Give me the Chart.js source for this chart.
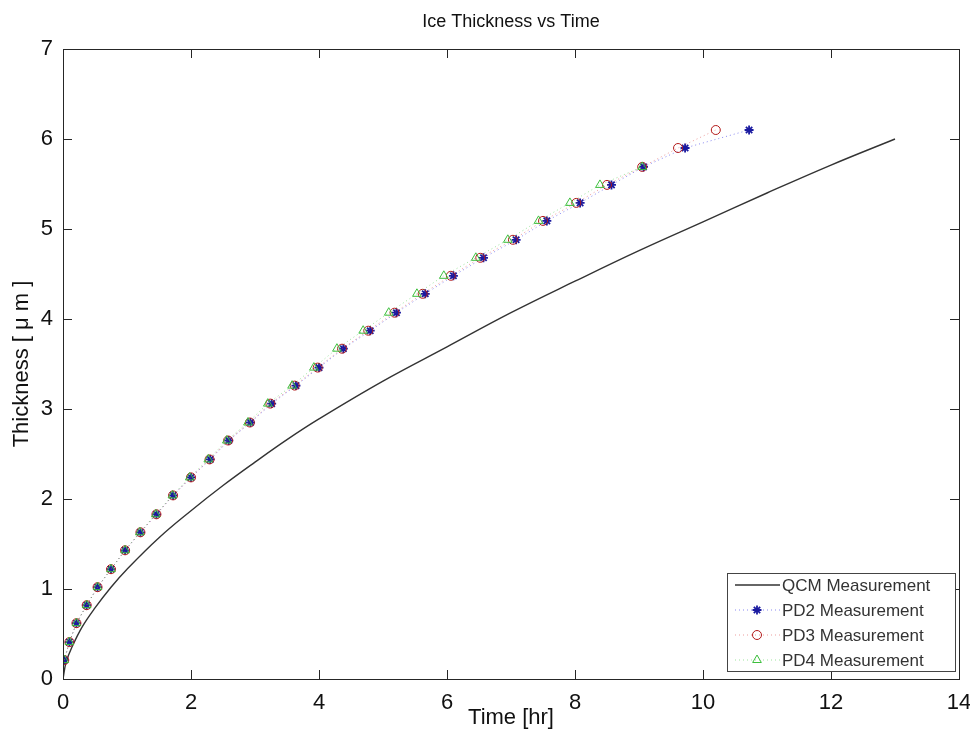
<!DOCTYPE html>
<html>
<head>
<meta charset="utf-8">
<script src="https://cdn.jsdelivr.net/npm/chart.js@4.4.0/dist/chart.umd.min.js"></script>
<style>
  html, body { margin: 0; padding: 0; background: #fff; }
  #wrap { width: 970px; height: 740px; }
</style>
</head>
<body>
<div id="wrap"><canvas id="myChart" width="970" height="740"></canvas></div>
<script>
// QCM measurement (solid line)
const timeQCM  = [0, 0.05, 0.15, 0.3, 0.5, 0.75, 1, 1.5, 2, 2.5, 3, 3.5, 4, 5, 6, 7, 8, 9, 10, 11, 12, 13];
const thickQCM = [0, 0.19, 0.37, 0.58, 0.79, 1.02, 1.22, 1.57, 1.87, 2.15, 2.41, 2.66, 2.89, 3.31, 3.69, 4.07, 4.42, 4.76, 5.08, 5.40, 5.71, 6.00];

// photodiode measurements
const timePD2  = [0.02, 0.10, 0.21, 0.37, 0.54, 0.75, 0.97, 1.21, 1.46, 1.72, 2.00, 2.30, 2.59, 2.93, 3.26, 3.64, 4.00, 4.38, 4.80, 5.21, 5.66, 6.10, 6.57, 7.08, 7.56, 8.08, 8.57, 9.07, 9.72, 10.72];
const thickPD2 = [0.21, 0.41, 0.62, 0.82, 1.02, 1.22, 1.43, 1.63, 1.83, 2.04, 2.24, 2.44, 2.65, 2.85, 3.06, 3.26, 3.46, 3.67, 3.87, 4.07, 4.28, 4.48, 4.68, 4.88, 5.09, 5.29, 5.49, 5.69, 5.90, 6.10];

const timePD3  = [0.02, 0.10, 0.21, 0.37, 0.54, 0.75, 0.97, 1.21, 1.46, 1.72, 2.00, 2.29, 2.58, 2.92, 3.24, 3.62, 3.98, 4.36, 4.77, 5.18, 5.62, 6.06, 6.52, 7.03, 7.50, 8.02, 8.50, 9.05, 9.61, 10.20];
const thickPD3 = [0.21, 0.41, 0.62, 0.82, 1.02, 1.22, 1.43, 1.63, 1.83, 2.04, 2.24, 2.44, 2.65, 2.85, 3.06, 3.26, 3.46, 3.67, 3.87, 4.07, 4.28, 4.48, 4.68, 4.88, 5.09, 5.29, 5.49, 5.69, 5.90, 6.10];

const timePD4  = [0.02, 0.10, 0.21, 0.37, 0.54, 0.75, 0.97, 1.20, 1.45, 1.71, 1.98, 2.27, 2.56, 2.89, 3.20, 3.58, 3.92, 4.28, 4.69, 5.09, 5.53, 5.95, 6.45, 6.95, 7.43, 7.92, 8.39, 9.05];
const thickPD4 = [0.21, 0.41, 0.62, 0.82, 1.02, 1.22, 1.43, 1.63, 1.83, 2.04, 2.24, 2.44, 2.65, 2.85, 3.06, 3.26, 3.46, 3.67, 3.87, 4.07, 4.28, 4.48, 4.68, 4.88, 5.09, 5.29, 5.49, 5.69];

const legendLabels = ["QCM Measurement", "PD2 Measurement", "PD3 Measurement", "PD4 Measurement"];
const tituloTexto = "Ice Thickness vs Time";

const FONT = "'Liberation Sans', Arial, Helvetica, sans-serif";

function pares(xs, ys) {
    return xs.map((x, i) => ({ x: x, y: ys[i] }));
}

function drawMarker(c, estilo, x, y, r) {
    if (estilo === 'circle') {
        c.moveTo(x + r, y);
        c.arc(x, y, r, 0, Math.PI * 2);
    } else if (estilo === 'triangle') {
        c.moveTo(x, y - r);
        c.lineTo(x + r * 0.87, y + r * 0.5);
        c.lineTo(x - r * 0.87, y + r * 0.5);
        c.closePath();
    } else if (estilo === 'star') {
        for (let k = 0; k < 4; k++) {
            const ang = k * Math.PI / 4;
            c.moveTo(x - r * Math.cos(ang), y - r * Math.sin(ang));
            c.lineTo(x + r * Math.cos(ang), y + r * Math.sin(ang));
        }
    }
}

// caja tipo matlab con ticks hacia dentro, titulo y leyenda
const marcoPlugin = {
    id: 'marco',
    afterDraw(chart) {
        const c = chart.ctx;
        const a = chart.chartArea;
        const sx = chart.scales.x, sy = chart.scales.y;
        c.save();

        // titulo centrado sobre los ejes
        c.fillStyle = '#111';
        c.font = '18px ' + FONT;
        c.textAlign = 'center';
        c.textBaseline = 'middle';
        c.fillText(tituloTexto, (a.left + a.right) / 2, 22);

        c.strokeStyle = '#262626';
        c.lineWidth = 1;
        c.strokeRect(a.left + 0.5, a.top + 0.5, a.right - a.left, a.bottom - a.top);
        c.beginPath();
        sx.ticks.forEach(t => {
            const px = Math.round(sx.getPixelForValue(t.value)) + 0.5;
            c.moveTo(px, a.bottom); c.lineTo(px, a.bottom - 9);
            c.moveTo(px, a.top); c.lineTo(px, a.top + 9);
        });
        sy.ticks.forEach(t => {
            const py = Math.round(sy.getPixelForValue(t.value)) + 0.5;
            c.moveTo(a.left, py); c.lineTo(a.left + 9, py);
            c.moveTo(a.right, py); c.lineTo(a.right - 9, py);
        });
        c.stroke();

        // leyenda
        const w = 228, h = 98;
        const lx = a.right - 4 - w, ly = a.bottom - 8 - h;
        c.fillStyle = '#fff';
        c.fillRect(lx, ly, w, h);
        c.strokeStyle = '#444';
        c.strokeRect(lx + 0.5, ly + 0.5, w, h);
        c.font = '17px ' + FONT;
        c.textAlign = 'left';
        c.textBaseline = 'middle';
        const ds = chart.data.datasets;
        legendLabels.forEach((lab, i) => {
            const y = ly + 12 + i * 25;
            const d = ds[i];
            c.save();
            c.strokeStyle = d.borderColor;
            c.lineWidth = d.borderWidth;
            c.setLineDash(d.borderDash || []);
            c.beginPath();
            c.moveTo(lx + 8, y); c.lineTo(lx + 53, y);
            c.stroke();
            c.restore();
            if (d.pointRadius > 0) {
                c.strokeStyle = d.pointBorderColor;
                c.lineWidth = d.pointBorderWidth;
                c.beginPath();
                drawMarker(c, d.pointStyle, lx + 30, y, d.pointRadius);
                c.stroke();
            }
            c.fillStyle = '#333';
            c.fillText(lab, lx + 55, y + 1);
        });
        c.restore();
    }
};

const ctx = document.getElementById('myChart').getContext('2d');

const myChart = new Chart(ctx, {
    type: 'scatter',
    data: {
        datasets: [
            {
                label: legendLabels[0],
                data: pares(timeQCM, thickQCM),
                showLine: true,
                borderColor: '#333333',
                borderWidth: 1.4,
                pointRadius: 0,
                tension: 0.4,
                order: 4
            },
            {
                label: legendLabels[1],
                data: pares(timePD2, thickPD2),
                showLine: true,
                borderColor: 'rgba(40,40,230,0.55)',
                borderWidth: 1,
                borderDash: [1, 3],
                pointStyle: 'star',
                pointRadius: 4.5,
                pointBorderWidth: 1.8,
                pointBorderColor: '#1a1aa0',
                pointBackgroundColor: 'rgba(0,0,0,0)',
                order: 3
            },
            {
                label: legendLabels[2],
                data: pares(timePD3, thickPD3),
                showLine: true,
                borderColor: 'rgba(220,60,60,0.5)',
                borderWidth: 1,
                borderDash: [1, 3],
                pointStyle: 'circle',
                pointRadius: 4.5,
                pointBorderWidth: 1,
                pointBorderColor: '#b31a1a',
                pointBackgroundColor: 'rgba(0,0,0,0)',
                order: 2
            },
            {
                label: legendLabels[3],
                data: pares(timePD4, thickPD4),
                showLine: true,
                borderColor: 'rgba(60,200,60,0.5)',
                borderWidth: 1,
                borderDash: [1, 3],
                pointStyle: 'triangle',
                pointRadius: 5,
                pointBorderWidth: 1,
                pointBorderColor: '#3cbf3c',
                pointBackgroundColor: 'rgba(0,0,0,0)',
                order: 1
            }
        ]
    },
    options: {
        responsive: false,
        animation: false,
        layout: { padding: { left: 0, right: 11, top: 49, bottom: 0 } },
        plugins: {
            legend: { display: false },
            tooltip: { enabled: false },
            title: { display: false }
        },
        scales: {
            x: {
                type: 'linear',
                min: 0, max: 14,
                grid: { display: false },
                border: { display: false },
                ticks: { stepSize: 2, color: '#111', padding: 3, font: { family: FONT, size: 22 } },
                title: { display: true, text: 'Time [hr]', color: '#111', padding: { top: 0, bottom: 9 }, font: { family: FONT, size: 22 } },
                afterFit(scale) {
                    scale.height = 61;
                    scale.paddingLeft = 0;
                    scale.paddingRight = 0;
                }
            },
            y: {
                type: 'linear',
                min: 0, max: 7,
                grid: { display: false },
                border: { display: false },
                ticks: { stepSize: 1, color: '#111', padding: 2, font: { family: FONT, size: 22 } },
                title: { display: true, text: 'Thickness [ μ m ]', color: '#111', padding: { top: 9, bottom: 0 }, font: { family: FONT, size: 22 } },
                afterFit(scale) { scale.width = 63; }
            }
        }
    },
    plugins: [marcoPlugin]
});
</script>
</body>
</html>
